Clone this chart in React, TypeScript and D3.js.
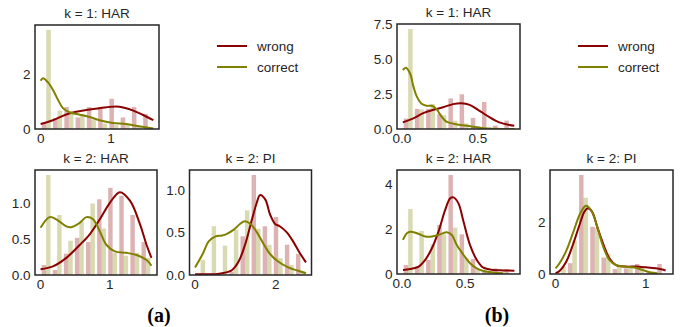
import React from "react";
import * as d3 from "d3";

// ---- colours ----
const WRONG = "#8b0000";
const CORRECT = "#808000";
const INK = "#262626";

// ---- series labels ----
const seriesNames = ["wrong", "correct"];

// ---- (a) k = 1: HAR ----
const a1Range = [0, 1.6];
const a1Wrong = [0.19, 0.4, 0.8, 0.42, 0.8, 0.8, 1.1, 0.42, 0.8, 0.55];
const a1Correct = [3.61, 0.67, 0.58, 0.55, 0.34, 0.2, 0.15, 0.15, 0.1, 0.04];
const a1WrongKde: [number, number][] = [
  [0, 0.18], [0.174, 0.32], [0.363, 0.53], [0.504, 0.63], [0.646, 0.69], [0.834, 0.76],
  [1.0, 0.81], [1.117, 0.81], [1.306, 0.68], [1.447, 0.52], [1.6, 0.32],
];
const a1CorrectKde: [number, number][] = [
  [0, 1.76], [0.033, 1.85], [0.104, 1.7], [0.174, 1.43], [0.245, 1.07], [0.316, 0.76],
  [0.41, 0.61], [0.552, 0.52], [0.693, 0.44], [0.834, 0.32], [1.023, 0.22], [1.212, 0.18],
  [1.4, 0.1], [1.6, 0.02],
];

// ---- (a) k = 2: HAR ----
const a2Range = [0, 1.6];
const a2Wrong = [0.14, 0.07, 0.3, 0.52, 0.46, 1.06, 1.22, 1.11, 0.84, 0.46];
const a2Correct = [1.4, 0.84, 0.48, 0.75, 1.0, 0.65, 0.31, 0.27, 0.31, 0.24];
const a2WrongKde: [number, number][] = [
  [0, 0.08], [0.179, 0.12], [0.372, 0.24], [0.565, 0.42], [0.71, 0.57], [0.855, 0.78],
  [1.0, 1.01], [1.145, 1.16], [1.29, 1.04], [1.435, 0.71], [1.53, 0.42], [1.6, 0.24],
];
const a2CorrectKde: [number, number][] = [
  [0, 0.66], [0.13, 0.81], [0.227, 0.78], [0.372, 0.68], [0.444, 0.67], [0.565, 0.73],
  [0.662, 0.81], [0.758, 0.78], [0.855, 0.61], [0.952, 0.42], [1.072, 0.33], [1.242, 0.31],
  [1.386, 0.28], [1.53, 0.21], [1.6, 0.13],
];

// ---- (a) k = 2: PI ----
const a3Range = [0, 2.75];
const a3Wrong = [0, 0, 0, 0.04, 0.46, 1.19, 0.58, 0.69, 0.36, 0.25];
const a3Correct = [0.18, 0.58, 0.35, 0.54, 0.77, 0.55, 0.36, 0.2, 0.12, 0.05];
const a3WrongKde: [number, number][] = [
  [0, 0.01], [0.51, 0.01], [0.67, 0.02], [0.92, 0.06], [1.08, 0.16], [1.24, 0.36],
  [1.41, 0.66], [1.53, 0.86], [1.61, 0.95], [1.74, 0.9], [1.86, 0.72], [1.98, 0.61],
  [2.1, 0.58], [2.27, 0.51], [2.43, 0.4], [2.6, 0.26], [2.75, 0.15],
];
const a3CorrectKde: [number, number][] = [
  [0, 0.09], [0.18, 0.24], [0.34, 0.4], [0.51, 0.46], [0.67, 0.47], [0.79, 0.49],
  [0.96, 0.54], [1.12, 0.61], [1.23, 0.64], [1.37, 0.61], [1.53, 0.51], [1.7, 0.37],
  [1.86, 0.25], [2.06, 0.16], [2.31, 0.09], [2.56, 0.05], [2.75, 0.02],
];

// ---- (b) k = 1: HAR ----
const b1Range = [0.005, 0.74];
const b1Wrong = [0.75, 1.45, 1.45, 1.1, 2.2, 2.5, 0.8, 1.95, 0.25, 0.6];
const b1Correct = [7.2, 1.4, 1.8, 1.0, 0.6, 0.4, 0.2, 0.1, 0.05, 0];
const b1WrongKde: [number, number][] = [
  [0.0065, 0.48], [0.076, 0.77], [0.141, 1.14], [0.207, 1.38], [0.272, 1.57], [0.337, 1.79],
  [0.391, 1.86], [0.446, 1.74], [0.511, 1.31], [0.576, 0.85], [0.641, 0.48], [0.707, 0.29],
  [0.739, 0.24],
];
const b1CorrectKde: [number, number][] = [
  [0.0065, 4.24], [0.026, 4.41], [0.054, 4.0], [0.076, 3.07], [0.098, 2.35], [0.13, 1.82],
  [0.163, 1.67], [0.196, 1.67], [0.228, 1.43], [0.261, 0.9], [0.293, 0.53], [0.348, 0.36],
  [0.402, 0.27], [0.467, 0.17], [0.533, 0.05], [0.598, 0.01], [0.74, 0.0],
];

// ---- (b) k = 2: HAR ----
const b2Range = [0.005, 0.89];
const b2Wrong = [0.4, 0.33, 0.63, 2.19, 4.42, 1.77, 0.67, 0.1, 0.25, 0.22];
const b2Correct = [2.9, 1.92, 1.32, 1.77, 2.07, 0.7, 0.22, 0.1, 0.05, 0.02];
const b2WrongKde: [number, number][] = [
  [0.008, 0.18], [0.066, 0.22], [0.132, 0.33], [0.184, 0.63], [0.237, 1.15], [0.289, 1.89],
  [0.342, 2.86], [0.382, 3.38], [0.408, 3.42], [0.447, 3.15], [0.487, 2.34], [0.539, 1.29],
  [0.592, 0.63], [0.645, 0.28], [0.724, 0.18], [0.803, 0.16], [0.89, 0.15],
];
const b2CorrectKde: [number, number][] = [
  [0.008, 1.52], [0.039, 1.82], [0.066, 1.89], [0.118, 1.82], [0.184, 1.67], [0.237, 1.67],
  [0.303, 1.77], [0.355, 1.86], [0.395, 1.74], [0.434, 1.29], [0.487, 0.85], [0.539, 0.48],
  [0.592, 0.25], [0.645, 0.13], [0.724, 0.06], [0.803, 0.03],
];

// ---- (b) k = 2: PI ----
const b3Range = [0, 1.24];
const b3Wrong = [0, 0.42, 3.86, 1.84, 0.64, 0.19, 0.22, 0.39, 0.05, 0.39];
const b3Correct = [0.3, 1.3, 2.97, 1.8, 0.8, 0.3, 0.25, 0.25, 0.1, 0];
const b3WrongKde: [number, number][] = [
  [0, 0.03], [0.044, 0.12], [0.118, 0.48], [0.191, 1.13], [0.265, 1.91], [0.32, 2.43],
  [0.357, 2.56], [0.404, 2.43], [0.467, 1.78], [0.54, 1.06], [0.596, 0.61], [0.669, 0.35],
  [0.779, 0.29], [0.89, 0.29], [1.0, 0.26], [1.11, 0.22], [1.22, 0.14],
];
const b3CorrectKde: [number, number][] = [
  [0, 0.22], [0.044, 0.42], [0.118, 0.9], [0.191, 1.58], [0.265, 2.3], [0.32, 2.62],
  [0.338, 2.66], [0.393, 2.49], [0.456, 1.91], [0.522, 1.13], [0.596, 0.55], [0.669, 0.35],
  [0.761, 0.29], [0.871, 0.25], [0.963, 0.16], [1.055, 0.06], [1.129, 0.03],
];

// ---- titles and tick values ----
const titles = ["k = 1: HAR", "k = 2: HAR", "k = 2: PI", "k = 1: HAR", "k = 2: HAR", "k = 2: PI"];
const xTicks = [[0, 1], [0, 1], [0, 2], [0, 0.5], [0, 0.5], [0, 1]];
const yTicks = [[0, 2], [0, 0.5, 1.0], [0, 0.5, 1.0], [0, 2.5, 5, 7.5], [0, 2, 4], [0, 2]];
const xFormats = ["d", "d", "d", ".1f", ".1f", "d"];
const yFormats = ["d", ".1f", ".1f", ".1f", "d", "d"];
const captions = ["(a)", "(b)"];

type Pt = [number, number];
interface PanelData {
  range: number[];
  wrong: number[];
  correct: number[];
  wrongKde: Pt[];
  correctKde: Pt[];
}

const panelData: PanelData[] = [
  { range: a1Range, wrong: a1Wrong, correct: a1Correct, wrongKde: a1WrongKde, correctKde: a1CorrectKde },
  { range: a2Range, wrong: a2Wrong, correct: a2Correct, wrongKde: a2WrongKde, correctKde: a2CorrectKde },
  { range: a3Range, wrong: a3Wrong, correct: a3Correct, wrongKde: a3WrongKde, correctKde: a3CorrectKde },
  { range: b1Range, wrong: b1Wrong, correct: b1Correct, wrongKde: b1WrongKde, correctKde: b1CorrectKde },
  { range: b2Range, wrong: b2Wrong, correct: b2Correct, wrongKde: b2WrongKde, correctKde: b2CorrectKde },
  { range: b3Range, wrong: b3Wrong, correct: b3Correct, wrongKde: b3WrongKde, correctKde: b3CorrectKde },
];

// axes boxes in pixels: left, right, top, bottom
const frames = [
  [35, 159, 25, 129],
  [35, 157, 170, 275],
  [189.5, 311.5, 170, 275],
  [397, 520, 24, 129],
  [397, 520, 170, 274],
  [550, 673, 170, 274],
];

const FONT = "'Liberation Sans', Arial, sans-serif";
const TICK_SIZE = 13.5;

function Panel({ idx }: { idx: number }) {
  const d = panelData[idx];
  const [l, r, t, b] = frames[idx];
  const [lo, hi] = d.range;
  const span = hi - lo;
  const x = d3.scaleLinear().domain([lo - 0.05 * span, hi + 0.05 * span]).range([l, r]);
  const ymax =
    d3.max([
      ...d.wrong,
      ...d.correct,
      ...d.wrongKde.map((p) => p[1]),
      ...d.correctKde.map((p) => p[1]),
    ]) ?? 1;
  const y = d3.scaleLinear().domain([0, ymax * 1.05]).range([b, t]);
  const nb = d.wrong.length;
  const w = span / nb;
  const line = d3
    .line<Pt>()
    .x((p) => x(p[0]))
    .y((p) => y(p[1]))
    .curve(d3.curveCatmullRom.alpha(0.5));
  const clipId = `clip-${idx}`;
  const fx = d3.format(xFormats[idx]);
  const fy = d3.format(yFormats[idx]);

  return (
    <g>
      <defs>
        <clipPath id={clipId}>
          <rect x={l} y={t} width={r - l} height={b - t} />
        </clipPath>
      </defs>
      <g clipPath={`url(#${clipId})`}>
        {d.wrong.map((v, i) => {
          const e = lo + i * w;
          return (
            <rect
              key={`w${i}`}
              x={x(e + 0.1 * w)}
              width={x(e + 0.5 * w) - x(e + 0.1 * w)}
              y={y(v)}
              height={y(0) - y(v)}
              fill={WRONG}
              fillOpacity={0.3}
            />
          );
        })}
        {d.correct.map((v, i) => {
          const e = lo + i * w;
          return (
            <rect
              key={`c${i}`}
              x={x(e + 0.5 * w)}
              width={x(e + 0.9 * w) - x(e + 0.5 * w)}
              y={y(v)}
              height={y(0) - y(v)}
              fill={CORRECT}
              fillOpacity={0.3}
            />
          );
        })}
        <path d={line(d.wrongKde) ?? ""} fill="none" stroke={WRONG} strokeWidth={2} />
        <path d={line(d.correctKde) ?? ""} fill="none" stroke={CORRECT} strokeWidth={2} />
      </g>
      <rect x={l} y={t} width={r - l} height={b - t} fill="none" stroke={INK} strokeWidth={1.5} />
      {xTicks[idx].map((v) => (
        <text
          key={`xt${v}`}
          x={x(v)}
          y={b + 9}
          textAnchor="middle"
          dominantBaseline="central"
          fontSize={TICK_SIZE}
          fontFamily={FONT}
          fill={INK}
        >
          {fx(v)}
        </text>
      ))}
      {yTicks[idx].map((v) => (
        <text
          key={`yt${v}`}
          x={l - 4.5}
          y={y(v)}
          textAnchor="end"
          dominantBaseline="central"
          fontSize={TICK_SIZE}
          fontFamily={FONT}
          fill={INK}
        >
          {fy(v)}
        </text>
      ))}
      <text
        x={(l + r) / 2}
        y={t - 11.5}
        textAnchor="middle"
        dominantBaseline="central"
        fontSize={13.5}
        fontFamily={FONT}
        fill={INK}
      >
        {titles[idx]}
      </text>
    </g>
  );
}

function Legend({ x0, y0 }: { x0: number; y0: number }) {
  const colors = [WRONG, CORRECT];
  return (
    <g>
      {seriesNames.map((name, i) => (
        <g key={name}>
          <line x1={x0} x2={x0 + 30} y1={y0 + i * 21} y2={y0 + i * 21} stroke={colors[i]} strokeWidth={2} />
          <text
            x={x0 + 40}
            y={y0 + i * 21}
            dominantBaseline="central"
            fontSize={13.5}
            fontFamily={FONT}
            fill={INK}
          >
            {name}
          </text>
        </g>
      ))}
    </g>
  );
}

export default function App() {
  return (
    <svg
      width={681}
      height={327}
      style={{ position: "absolute", left: 0, top: 0, display: "block", background: "#fff" }}
    >
      <rect width={681} height={327} fill="#fff" />
      {panelData.map((_, i) => (
        <Panel key={i} idx={i} />
      ))}
      <Legend x0={217} y0={46} />
      <Legend x0={578} y0={46} />
      {captions.map((c, i) => (
        <text
          key={c}
          x={i === 0 ? 159 : 497}
          y={314.5}
          textAnchor="middle"
          dominantBaseline="central"
          fontSize={20}
          fontWeight="bold"
          fontFamily="'Liberation Serif', 'Times New Roman', serif"
          fill="#000"
        >
          {c}
        </text>
      ))}
    </svg>
  );
}
